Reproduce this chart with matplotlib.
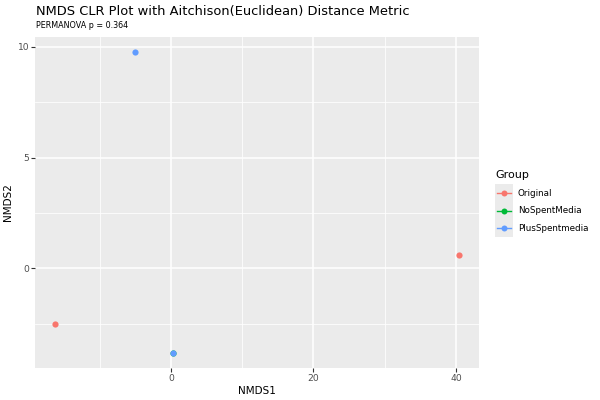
import matplotlib.pyplot as plt
from matplotlib.lines import Line2D
from matplotlib.patches import Rectangle

groups = ["Original", "NoSpentMedia", "PlusSpentmedia"]
colors = ["#F8766D", "#00BA38", "#619CFF"]
nmds1 = {
    "Original": [-16.2, 40.4],
    "NoSpentMedia": [0.28],
    "PlusSpentmedia": [-5.07, 0.28],
}
nmds2 = {
    "Original": [-2.5, 0.59],
    "NoSpentMedia": [-3.82],
    "PlusSpentmedia": [9.77, -3.82],
}
x_ticks = [0, 20, 40]
y_ticks = [0, 5, 10]

fig = plt.figure(figsize=(6, 4), dpi=100)
ax = fig.add_axes([0.059, 0.08, 0.739, 0.8275])
ax.set_facecolor("#EBEBEB")

for g, c in zip(groups, colors):
    ax.scatter(nmds1[g], nmds2[g], s=20, color=c, zorder=3, linewidths=0)

ax.set_xlim(-19.0, 43.2)
ax.set_ylim(-4.5, 10.45)
ax.set_xticks(x_ticks)
ax.set_yticks(y_ticks)
ax.set_xticks([-10, 10, 30], minor=True)
ax.set_yticks([-2.5, 2.5, 7.5], minor=True)
ax.grid(which="major", color="white", linewidth=1.1)
ax.grid(which="minor", color="white", linewidth=0.55)
ax.set_axisbelow(True)
for s in ax.spines.values():
    s.set_visible(False)
ax.tick_params(which="major", length=3, color="#333333", labelcolor="#4D4D4D", labelsize=6.6, pad=1.5)
ax.tick_params(which="minor", length=0)
ax.set_xlabel("NMDS1", fontsize=7.5, labelpad=2)
ax.set_ylabel("NMDS2", fontsize=7.5, labelpad=3)

fig.text(0.06, 0.9725, "NMDS CLR Plot with Aitchison(Euclidean) Distance Metric", fontsize=9.35,
         ha="left", va="center")
fig.text(0.06, 0.9375, "PERMANOVA p = 0.364", fontsize=5.8, ha="left", va="center")

# legend
fig.text(0.825, 0.5625, "Group", fontsize=8, ha="left", va="center")
for i, (g, c) in enumerate(zip(groups, colors)):
    yc = 0.5175 - i * 0.0438
    fig.patches.append(Rectangle((0.825, yc - 0.0219), 0.03, 0.0438, transform=fig.transFigure,
                                 facecolor="#EBEBEB", edgecolor="none"))
    fig.lines.append(Line2D([0.828, 0.852], [yc, yc], transform=fig.transFigure, color=c, linewidth=1))
    fig.lines.append(Line2D([0.84], [yc], transform=fig.transFigure, color=c, marker="o",
                            markersize=4.3, markeredgewidth=0))
    fig.text(0.863, yc, g, fontsize=6.3, ha="left", va="center")

fig.savefig("out.png", dpi=100)
